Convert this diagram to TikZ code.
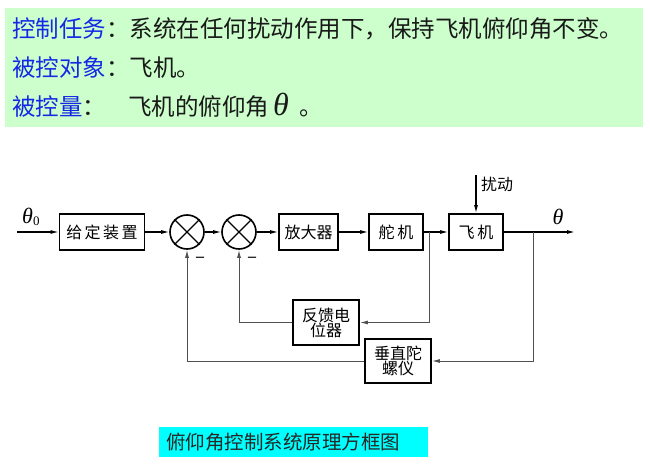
\documentclass[tikz,border=0pt]{standalone}
\usepackage{fontspec}
\setmainfont{Liberation Serif}
\newfontfamily\cjk{Noto Sans CJK SC}
\usetikzlibrary{arrows.meta}
\definecolor{lblue}{RGB}{20,40,230}
\definecolor{lgreen}{RGB}{204,255,204}
\definecolor{lcyan}{RGB}{0,255,255}
\definecolor{fbgray}{RGB}{80,80,80}
\tikzset{
  toptext/.style={anchor=west, inner sep=0pt, text=black!90, font=\cjk\fontsize{23.5}{28}\selectfont},
  blk/.style={draw, line width=1.8pt, minimum height=36pt, inner sep=0pt, font=\cjk\fontsize{16}{18}\selectfont, align=center},
  fbblk/.style={blk, font=\cjk\fontsize{16}{18}\selectfont},
  sumc/.style={draw, circle, line width=1.6pt, minimum size=34pt, inner sep=0pt},
  conn/.style={line width=1.1pt, -{Latex[length=8pt,width=4pt]}},
  fb/.style={line width=1pt, draw=fbgray},
  fbarrow/.style={fb, -{Latex[length=8pt,width=4pt]}},
  lbl/.style={inner sep=0pt, font=\fontsize{22}{24}\selectfont\itshape}
}
\begin{document}
\begin{tikzpicture}[x=1pt,y=-1pt]
\useasboundingbox (0,0) rectangle (650,470);
% top green panel
\fill[lgreen] (5,8) rectangle (643,127);
\node[toptext] (t1) at (12,29) {\textcolor{lblue}{控制任务}：系统在任何扰动作用下，保持飞机俯仰角不变。};
\node[toptext] (t2) at (12,68) {\textcolor{lblue}{被控对象}：飞机。};
\node[toptext] (t3) at (12,105) {\textcolor{lblue}{被控量}：\hspace{22pt}飞机的俯仰角\hspace{4pt}{\rmfamily\itshape\fontsize{32}{32}\selectfont θ}\hspace{11pt}。};

% blocks
\node[blk, minimum width=85pt] (gd) at (102,232) {给\hspace{2.5pt}定\hspace{2.5pt}装\hspace{2.5pt}置};
\node[sumc] (s1) at (187,232) {};
\node[sumc] (s2) at (239,232) {};
\draw[line width=1.4pt] (s1.north west) -- (s1.south east) (s1.north east) -- (s1.south west);
\draw[line width=1.4pt] (s2.north west) -- (s2.south east) (s2.north east) -- (s2.south west);
\node[blk, minimum width=59pt] (amp) at (308.5,232) {放大器};
\node[blk, minimum width=54pt] (dj) at (396,232) {舵\hspace{3pt}机};
\node[blk, minimum width=54pt] (fj) at (476,232) {飞\hspace{3pt}机};
\node[fbblk, minimum width=66pt, minimum height=45pt] (fk) at (326,322.5) {反馈电\\[-3pt]位器};
\node[fbblk, minimum width=66pt, minimum height=44pt] (ct) at (398,361) {垂直陀\\[-3pt]螺仪};

% coordinates
\coordinate (in) at (17,232);
\coordinate (dist) at (476,175);
\coordinate (out) at (575,232);
\coordinate (j1) at (429,232);
\coordinate (j2) at (533,232);

% forward path
\draw[conn] (in) -- (gd.west);
\draw[conn] (gd.east) -- (s1.west);
\draw[conn] (s1.east) -- (s2.west);
\draw[conn] (s2.east) -- (amp.west);
\draw[conn] (amp.east) -- (dj.west);
\draw[conn] (dj.east) -- (fj.west);
\draw[conn] (fj.east) -- (out);
\draw[conn] (dist) -- (fj.north);

% feedback paths
\draw[fbarrow] (j1) |- (fk.east);
\draw[fbarrow] (fk.west) -| (s2.south);
\draw[fbarrow] (j2) |- (ct.east);
\draw[fbarrow] (ct.west) -| (s1.south);

% labels
\node[lbl, anchor=south west] (th0) at (22,226) {θ\raisebox{-2pt}{\upshape\fontsize{13}{13}\selectfont 0}};
\node[lbl] (th) at (558,217) {θ};
\node[inner sep=0pt, font=\cjk\fontsize{16}{18}\selectfont, anchor=west] (rd) at (481,184) {扰动};
\node[inner sep=0pt, font=\bfseries\fontsize{16}{17}\selectfont] (m1) at (200,259) {–};
\node[inner sep=0pt, font=\bfseries\fontsize{16}{17}\selectfont] (m2) at (252,259) {–};

% caption
\fill[lcyan] (159,427) rectangle (428,457);
\node[inner sep=0pt, anchor=west, text=black!85, font=\cjk\fontsize{19.5}{22}\selectfont] (cap) at (166,442) {俯仰角控制系统原理方框图};
\end{tikzpicture}
\end{document}
